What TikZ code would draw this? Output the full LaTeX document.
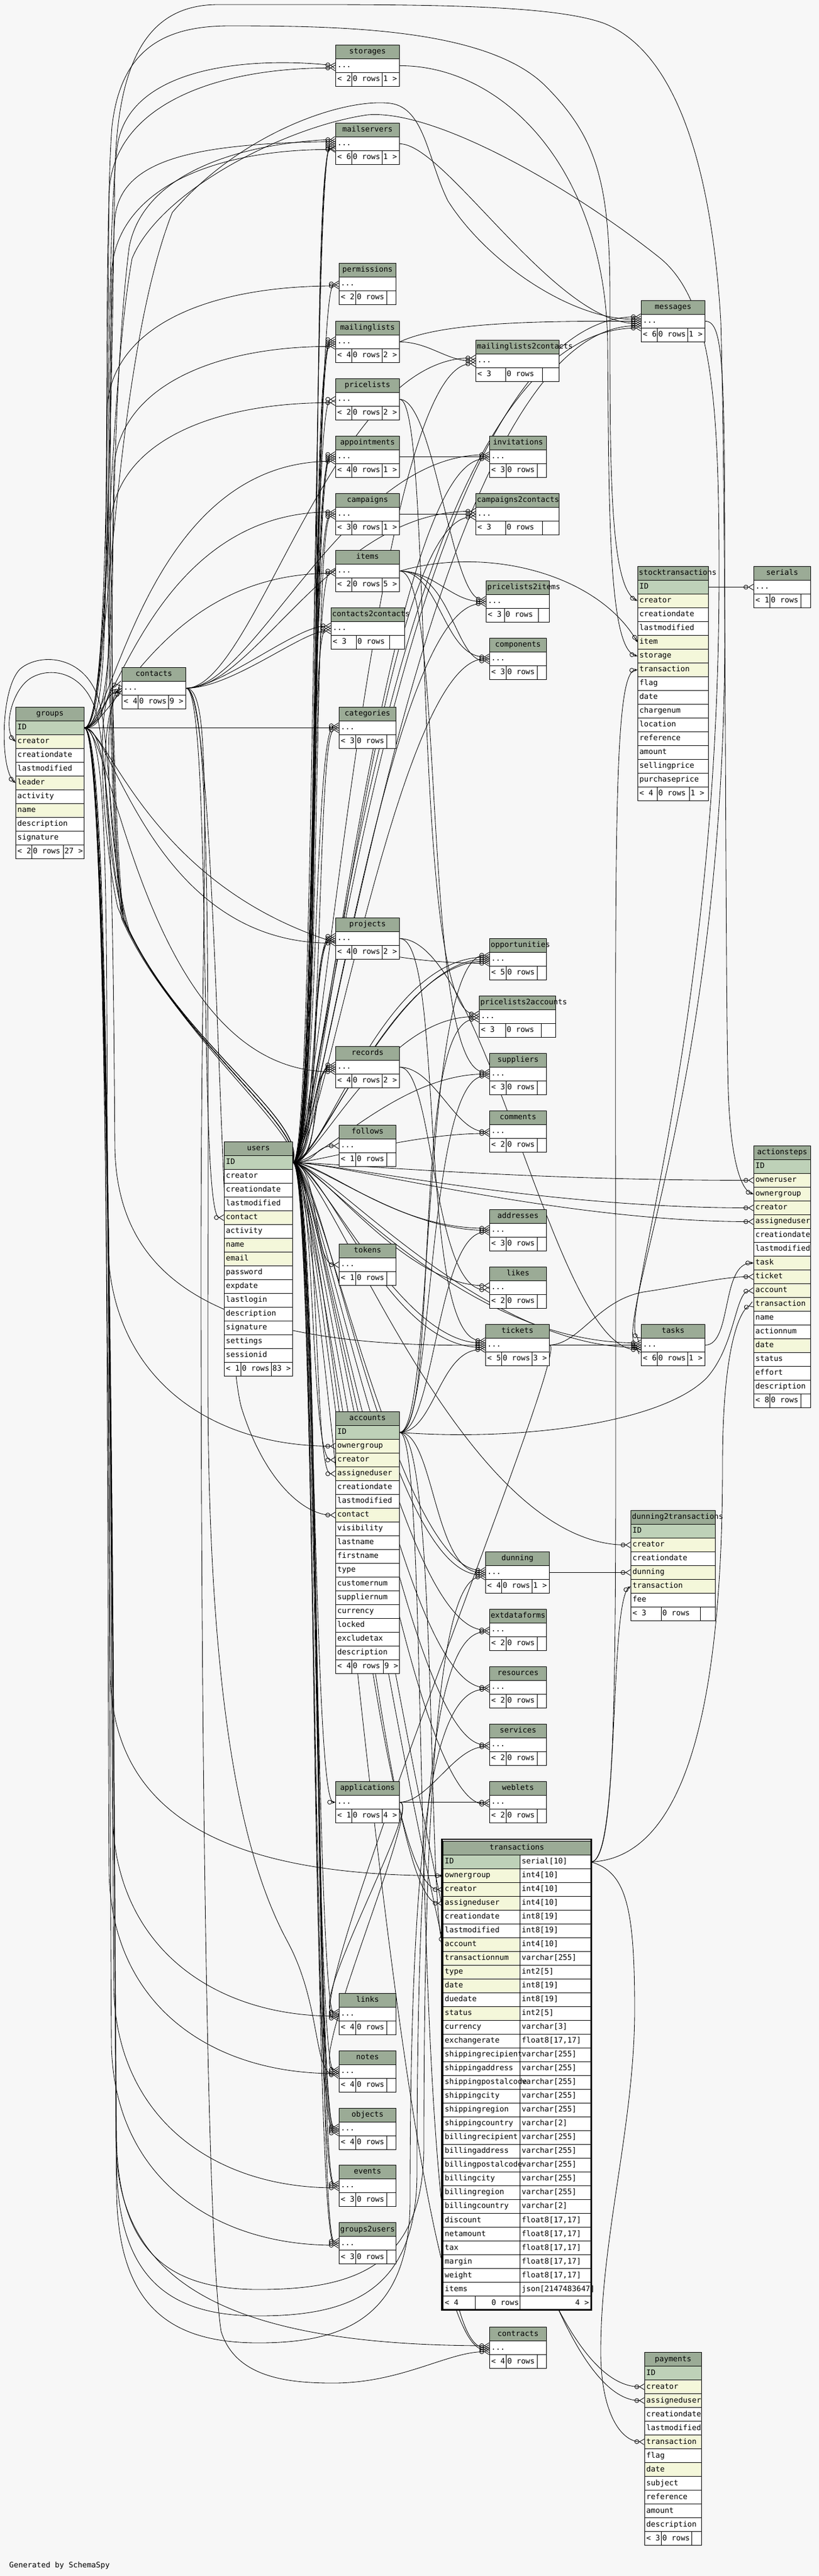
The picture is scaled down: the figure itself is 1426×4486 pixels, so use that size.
\documentclass[tikz,border=0pt]{standalone}
\usepackage{fontspec}
\usetikzlibrary{arrows.meta}
\newfontfamily\dbfamily{DejaVu Sans Mono}
\newcommand{\dbfont}{\dbfamily\fontsize{13.2}{15}\selectfont}
\definecolor{headcol}{HTML}{9BAB96}
\definecolor{pkcol}{HTML}{BED1B8}
\definecolor{fkcol}{HTML}{F4F7DA}
\definecolor{bgcol}{HTML}{F7F7F7}
\pgfdeclarelayer{bg}
\pgfdeclarelayer{edges}
\pgfsetlayers{bg,edges,main}
\tikzstyle{cell}=[draw=black, line width=0.9pt, fill=white, inner sep=0pt, anchor=north west, minimum height=24pt, text height=9.6pt, text depth=2.6pt, font=\dbfont]
\tikzstyle{headcell}=[cell, fill=headcol]
\tikzstyle{many}=[line width=0.85pt, -{Circle[open,length=8pt,width=8pt]Straight Barb[reversed,length=8pt,width=10pt]}]
\tikzstyle{one}=[line width=0.85pt, -{Circle[open,length=8pt,width=8pt]Stealth[length=6pt,width=5pt]}]
\newcommand{\floattype}{float8[17,17]}
\newcommand{\lname}[1]{\rlap{\hspace{2pt}#1}\hfill}
\newcommand{\footrow}[8]
{
  \node[cell] (#1-f1) at (#2,#3) {\makebox[#5pt][l]{\hspace{3pt}< #7}};
  \node[cell] (#1-f2) at (#2+#5,#3) {\makebox[#6pt][l]{\hspace{2pt}0 rows}};
  \node[cell] (#1-f3) at (#2+#5+#6,#3) {\makebox[\dimexpr#4pt-#5pt-#6pt\relax][l]{\hspace{2pt}#8}};
}
\newcommand{\brieftable}[9]
{
  \node[headcell] (#1-h) at (#2,#3) {\makebox[#4pt][c]{#5}};
  \node[cell] (#1-r) at (#2,#3+24) {\makebox[#4pt][l]{\hspace{3pt}...}};
  \footrow{#1}{#2}{#3+48}{#4}{#8}{#9}{#6}{#7}
}
\newcommand{\fulltable}[6]
{
  \node[headcell] (#1-h) at (#2,#3) {\makebox[#4pt][c]{#5}};
  \foreach \col/\shade [count=\i] in {#6}
    \node[cell, fill=\shade] (#1-\col) at (#2,#3+24*\i) {\makebox[#4pt][l]{\hspace{3pt}\col}};
}
\newcommand{\relate}[5][many]{\draw[#1] (#2) .. controls +(#3,0) and +(-#4,0) .. (#5);}
\newcommand{\chutedown}[5][many]{\draw[#1] (#2) .. controls +(45,0) and (#3,#4-900) .. (#3+4,#4-350) .. controls (#3+8,#4-120) and (#3+180,#4) .. (#5);}
\newcommand{\chuteup}[5][many]{\draw[#1] (#2) .. controls +(45,0) and (#3,#4+500) .. (#3+4,#4+220) .. controls (#3+8,#4+70) and (#3+180,#4) .. (#5);}
\newcommand{\swoop}[6][many]
{
  \draw[#1] (#2) .. controls +(50,0) and (198,#3-700) .. (203,#3-260)
    .. controls (207,#3-60) and (300,#3) .. (450,#3)
    .. controls (#4-120,#3) and (#4,#3-40) .. (#4,#3-250)
    .. controls (#4,#6+250) and (#4+40,#6) .. (#5);
}

\begin{document}
\begin{tikzpicture}[x=1pt, y=-1pt]
	\useasboundingbox (0,0) rectangle (1426,4486);
	\begin{pgfonlayer}{bg}
		\fill[bgcol] (0,0) rectangle (1426,4486);
	\end{pgfonlayer}

	% tables shown without columns
	\brieftable{storages}{584}{78}{111}{storages}{2}{1 >}{28}{53}
	\brieftable{mailservers}{584}{214}{111}{mailservers}{6}{1 >}{28}{53}
	\brieftable{permissions}{590}{458}{99}{permissions}{2}{}{29}{54}
	\brieftable{mailinglists}{584}{559}{111}{mailinglists}{4}{2 >}{28}{53}
	\brieftable{pricelists}{584}{659}{111}{pricelists}{2}{2 >}{28}{53}
	\brieftable{mailinglists2contacts}{828}{592}{145}{\lname{mailinglists2contacts}}{3}{}{52}{64}
	\brieftable{messages}{1116}{523}{111}{messages}{6}{1 >}{28}{53}
	\brieftable{appointments}{584}{759}{111}{appointments}{4}{1 >}{28}{53}
	\brieftable{invitations}{852}{759}{99}{invitations}{3}{}{29}{54}
	\brieftable{campaigns}{584}{859}{111}{campaigns}{3}{1 >}{28}{53}
	\brieftable{campaigns2contacts}{828}{859}{145}{\lname{campaigns2contacts}}{3}{}{52}{64}
	\brieftable{items}{584}{958}{111}{items}{2}{5 >}{28}{53}
	\brieftable{pricelists2items}{846}{1011}{110}{\lname{pricelists2items}}{3}{}{32}{59}
	\brieftable{contacts2contacts}{576}{1058}{128}{\lname{contacts2contacts}}{3}{}{44}{58}
	\brieftable{components}{852}{1111}{99}{components}{3}{}{29}{54}
	\brieftable{contacts}{212}{1162}{111}{contacts}{4}{9 >}{28}{53}
	\brieftable{categories}{590}{1231}{99}{categories}{3}{}{29}{54}
	\brieftable{serials}{1312}{986}{99}{serials}{1}{}{28}{54}
	\brieftable{projects}{584}{1598}{111}{projects}{4}{2 >}{28}{53}
	\brieftable{opportunities}{852}{1634}{99}{\lname{opportunities}}{5}{}{29}{54}
	\brieftable{pricelists2accounts}{834}{1734}{133}{\lname{pricelists2accounts}}{3}{}{46}{62}
	\brieftable{records}{584}{1822}{111}{records}{4}{2 >}{28}{53}
	\brieftable{suppliers}{852}{1834}{99}{suppliers}{3}{}{29}{54}
	\brieftable{comments}{852}{1934}{99}{comments}{2}{}{29}{54}
	\brieftable{follows}{590}{1959}{99}{follows}{1}{}{29}{54}
	\brieftable{addresses}{852}{2106}{99}{addresses}{3}{}{29}{54}
	\brieftable{tokens}{590}{2166}{99}{tokens}{1}{}{29}{54}
	\brieftable{likes}{852}{2206}{99}{likes}{2}{}{29}{54}
	\brieftable{tickets}{845}{2306}{111}{tickets}{5}{3 >}{28}{53}
	\brieftable{tasks}{1116}{2306}{111}{tasks}{6}{1 >}{28}{53}
	\brieftable{dunning}{845}{2702}{111}{dunning}{4}{1 >}{28}{53}
	\brieftable{extdataforms}{852}{2802}{99}{extdataforms}{2}{}{29}{54}
	\brieftable{resources}{852}{2902}{99}{resources}{2}{}{29}{54}
	\brieftable{services}{852}{3002}{99}{services}{2}{}{29}{54}
	\brieftable{applications}{584}{3102}{111}{applications}{1}{4 >}{28}{53}
	\brieftable{weblets}{852}{3102}{99}{weblets}{2}{}{29}{54}
	\brieftable{links}{590}{3471}{99}{links}{4}{}{29}{54}
	\brieftable{notes}{590}{3571}{99}{notes}{4}{}{29}{54}
	\brieftable{objects}{590}{3671}{99}{objects}{4}{}{29}{54}
	\brieftable{events}{590}{3770}{99}{events}{3}{}{29}{54}
	\brieftable{groups2users}{590}{3870}{99}{groups2users}{3}{}{29}{54}
	\brieftable{contracts}{852}{4052}{99}{contracts}{4}{}{29}{54}

	% tables with their columns
	\fulltable{groups}{27}{1231}{119}{groups}{ID/pkcol,creator/fkcol,creationdate/white,lastmodified/white,leader/fkcol,activity/white,name/fkcol,description/white,signature/white}
	\footrow{groups}{27}{1471}{119}{28}{55}{2}{27 >}
	\fulltable{users}{390}{1988}{119}{users}{ID/pkcol,creator/white,creationdate/white,lastmodified/white,contact/fkcol,activity/white,name/fkcol,email/fkcol,password/white,expdate/white,lastlogin/white,description/white,signature/white,settings/white,sessionid/white}
	\footrow{users}{390}{2372}{119}{29}{53}{1}{83 >}
	\fulltable{accounts}{584}{2458}{111}{accounts}{ID/pkcol,ownergroup/fkcol,creator/fkcol,assigneduser/fkcol,creationdate/white,lastmodified/white,contact/fkcol,visibility/white,lastname/white,firstname/white,type/white,customernum/white,suppliernum/white,currency/white,locked/white,excludetax/white,description/white}
	\footrow{accounts}{584}{2890}{111}{28}{55}{4}{9 >}
	\fulltable{stocktransactions}{1110}{986}{123}{\lname{stocktransactions}}{ID/pkcol,creator/fkcol,creationdate/white,lastmodified/white,item/fkcol,storage/fkcol,transaction/fkcol,flag/white,date/white,chargenum/white,location/white,reference/white,amount/white,sellingprice/white,purchaseprice/white}
	\footrow{stocktransactions}{1110}{1370}{123}{34}{56}{4}{1 >}
	\fulltable{actionsteps}{1312}{1995}{99}{actionsteps}{ID/pkcol,owneruser/fkcol,ownergroup/fkcol,creator/fkcol,assigneduser/fkcol,creationdate/white,lastmodified/white,task/fkcol,ticket/fkcol,account/fkcol,transaction/fkcol,name/white,actionnum/white,date/fkcol,status/white,effort/white,description/white}
	\footrow{actionsteps}{1312}{2427}{99}{28}{54}{8}{}
	\fulltable{dunning2transactions}{1098}{2630}{147}{\lname{dunning2transactions}}{ID/pkcol,creator/fkcol,creationdate/white,dunning/fkcol,transaction/fkcol,fee/white}
	\footrow{dunning2transactions}{1098}{2798}{147}{53}{68}{3}{}
	\fulltable{payments}{1122}{4096}{99}{payments}{ID/pkcol,creator/fkcol,assigneduser/fkcol,creationdate/white,lastmodified/white,transaction/fkcol,flag/white,date/fkcol,subject/white,reference/white,amount/white,description/white}
	\footrow{payments}{1122}{4408}{99}{29}{53}{3}{}

	% transactions, with column types
	\node[headcell] (transactions-h) at (771,3206) {\makebox[257pt][c]{transactions}};
	\foreach \col/\type/\shade [count=\i] in {ID/serial[10]/pkcol, ownergroup/int4[10]/fkcol, creator/int4[10]/fkcol, assigneduser/int4[10]/fkcol, creationdate/int8[19]/white, lastmodified/int8[19]/white, account/int4[10]/fkcol, transactionnum/varchar[255]/fkcol, type/int2[5]/fkcol, date/int8[19]/fkcol, duedate/int8[19]/white, status/int2[5]/fkcol, currency/varchar[3]/white, exchangerate/\floattype/white, shippingrecipient/varchar[255]/white, shippingaddress/varchar[255]/white, shippingpostalcode/varchar[255]/white, shippingcity/varchar[255]/white, shippingregion/varchar[255]/white, shippingcountry/varchar[2]/white, billingrecipient/varchar[255]/white, billingaddress/varchar[255]/white, billingpostalcode/varchar[255]/white, billingcity/varchar[255]/white, billingregion/varchar[255]/white, billingcountry/varchar[2]/white, discount/\floattype/white, netamount/\floattype/white, tax/\floattype/white, margin/\floattype/white, weight/\floattype/white, items/json[2147483647]/white}
	{
		\node[cell] (transactions-\col-t) at (905,3206+24*\i) {\makebox[123pt][l]{\hspace{3pt}\type}};
		\node[cell, fill=\shade] (transactions-\col) at (771,3206+24*\i) {\makebox[134pt][l]{\hspace{3pt}\col}};
	}
	\node[cell] (transactions-f1) at (771,3998) {\makebox[56pt][l]{\hspace{3pt}< 4}};
	\node[cell] (transactions-f2) at (827,3998) {\makebox[78pt][r]{0 rows\hspace{2pt}}};
	\node[cell] (transactions-f3) at (905,3998) {\makebox[123pt][r]{4 >\hspace{3pt}}};
	\draw[line width=2.6pt] (769.3,3202.8) rectangle (1029.7,4022.2);

	\node[font=\dbfont, anchor=west, inner sep=0pt] (credit) at (16,4468) {Generated by SchemaSpy};

	\begin{pgfonlayer}{edges}
	% from users
	\foreach \c/\a/\b in {mailservers-r.west/40/40, mailservers-r.184/50/45, mailservers-r.188/60/50, permissions-r.west/45/45, mailinglists-r.west/40/40, mailinglists-r.176/50/45, mailinglists-r.184/55/50, pricelists-r.west/45/45, appointments-r.west/40/40, appointments-r.176/50/45, appointments-r.184/55/50, campaigns-r.west/40/45, campaigns-r.184/50/40, items-r.west/45/45, contacts2contacts-r.west/40/40, categories-r.176/45/45, categories-r.184/55/40, projects-r.west/40/40, projects-r.176/50/45, projects-r.184/55/50, records-r.west/40/45, records-r.176/50/40, records-r.184/55/50, follows-r.west/45/45, tokens-r.west/45/45, accounts-creator.west/40/45, accounts-assigneduser.west/50/40, links-r.west/40/40, notes-r.west/45/45, objects-r.west/40/40, objects-r.176/50/45, objects-r.184/55/50, objects-r.188/45/55, events-r.west/40/45, events-r.176/50/40, groups2users-r.west/40/45, groups2users-r.176/50/40}
		{\relate{users-ID.east}{\a}{\b}{\c}}
	\foreach \c/\a/\b in {mailinglists2contacts-r.184/45/180, invitations-r.184/45/180, campaigns2contacts-r.184/50/170, pricelists2items-r.184/45/170, components-r.west/50/160, opportunities-r.west/45/160, opportunities-r.176/55/190, opportunities-r.184/50/170, pricelists2accounts-r.west/45/170, suppliers-r.west/50/160, comments-r.184/45/140, addresses-r.west/45/150, addresses-r.176/55/170, likes-r.176/45/150, tickets-r.176/45/150, tickets-r.184/55/170, dunning-r.176/45/150, dunning-r.184/55/170, extdataforms-r.west/45/160, resources-r.west/45/160, services-r.west/45/150, weblets-r.184/50/150, transactions-creator.west/45/120, transactions-assigneduser.west/55/110, contracts-r.184/50/160}
		{\relate{users-ID.east}{\a}{\b}{\c}}
	\foreach \c/\a/\b in {messages-r.172/45/420, messages-r.188/55/380, messages-r.192/50/450, actionsteps-owneruser.west/60/420, actionsteps-creator.west/70/380, actionsteps-assigneduser.west/80/340, tasks-r.176/45/320, tasks-r.184/55/280, dunning2transactions-creator.west/60/300, payments-creator.west/50/330, payments-assigneduser.west/60/300}
		{\relate{users-ID.east}{\a}{\b}{\c}}
	\relate[one]{users-ID.east}{40}{40}{applications-r.west}
	\draw[many] (users-ID.east) .. controls (530,1960) and (300,1800) .. (215,1600) .. controls (185,1450) and (180,400) .. (205,250) .. controls (230,110) and (450,100) .. (storages-r.west);
	\draw[many] (users-ID.east) .. controls (530,1960) and (300,1800) .. (215,1600) .. controls (185,1400) and (190,700) .. (225,430) .. controls (250,300) and (420,250) .. (mailservers-r.172);
	\draw[many] (users-ID.east) .. controls (530,1960) and (300,1800) .. (215,1600) .. controls (185,1300) and (190,500) .. (200,380) .. controls (210,280) and (330,250) .. (mailservers-r.176);
	\draw[many] (users-ID.east) .. controls (530,1960) and (300,1800) .. (215,1600) .. controls (185,1480) and (165,1260) .. (contacts-r.west);
	\draw[many] (users-ID.east) .. controls (535,1950) and (320,1820) .. (225,1620) .. controls (190,1500) and (175,1230) .. (contacts-r.176);
	\draw[many] (users-ID.east) .. controls (525,1970) and (290,1790) .. (205,1580) .. controls (180,1470) and (160,1200) .. (contacts-r.172);
	\draw[one] (users-ID.east) .. controls (530,1960) and (300,1800) .. (215,1600) .. controls (190,1500) and (185,1320) .. (170,1250) .. controls (152,1170) and (90,1160) .. (55,1180) .. controls (20,1200) and (5,1270) .. (groups-creator.west);
	\draw[one] (users-ID.east) .. controls (535,1950) and (310,1810) .. (220,1610) .. controls (195,1510) and (190,1300) .. (175,1230) .. controls (155,1140) and (70,1135) .. (35,1165) .. controls (0,1200) and (0,1340) .. (groups-leader.west);
	\draw[one] (users-ID.east) .. controls (530,1960) and (300,1800) .. (212,1600) .. controls (182,1400) and (180,400) .. (195,220) .. controls (210,90) and (280,45) .. (400,45) .. controls (600,45) and (850,50) .. (950,150) .. controls (1040,240) and (1062,320) .. (1062,520) .. controls (1062,800) and (1060,1020) .. (stocktransactions-creator.west);

	% from groups
	\chuteup{groups-ID.east}{186}{118}{storages-r.184}
	\chuteup{groups-ID.east}{190}{260}{mailservers-r.190}
	\chuteup{groups-ID.east}{182}{498}{permissions-r.184}
	\chuteup{groups-ID.east}{194}{603}{mailinglists-r.188}
	\chuteup{groups-ID.east}{188}{701}{pricelists-r.186}
	\foreach \c/\a/\b in {appointments-r.188/50/330, campaigns-r.176/50/320, items-r.184/50/300, projects-r.188/50/320, records-r.188/50/330, opportunities-r.188/50/560}
		{\relate{groups-ID.east}{\a}{\b}{\c}}
	\chutedown{groups-ID.east}{184}{2518}{accounts-ownergroup.west}
	\chutedown{groups-ID.east}{196}{2348}{tickets-r.west}
	\chutedown[one]{groups-ID.east}{188}{3266}{transactions-ownergroup.west}
	\chutedown{groups-ID.east}{192}{3511}{links-r.184}
	\chutedown{groups-ID.east}{186}{3611}{notes-r.184}
	\chutedown{groups-ID.east}{194}{3810}{events-r.184}
	\chutedown{groups-ID.east}{190}{3910}{groups2users-r.184}
	\chutedown{groups-ID.east}{198}{4084}{contracts-r.176}
	\relate{groups-ID.east}{30}{30}{contacts-r.186}
	\draw[many] (groups-ID.east) -- (categories-r.west);
	\draw[many] (groups-ID.east) .. controls (190,1267) and (190,650) .. (300,370) .. controls (420,230) and (600,170) .. (680,180) .. controls (740,188) and (745,280) .. (780,350) .. controls (850,460) and (1000,559) .. (messages-r.176);
	\draw[one] (groups-ID.east) .. controls (190,1267) and (195,600) .. (200,300) .. controls (205,100) and (260,8) .. (380,8) .. controls (700,8) and (950,5) .. (1050,40) .. controls (1180,90) and (1240,300) .. (1255,560) .. controls (1265,900) and (1262,1700) .. (1268,1900) .. controls (1272,2020) and (1290,2072) .. (actionsteps-ownergroup.west);
	\draw[many] (groups-ID.east) .. controls (190,1267) and (185,700) .. (230,450) .. controls (280,330) and (500,220) .. (640,200) .. controls (760,190) and (1000,330) .. (1150,450) .. controls (1240,525) and (1252,700) .. (1252,1000) .. controls (1252,1800) and (1075,2300) .. (tasks-r.172);
	\swoop{groups-ID.east}{3987}{738}{dunning-r.188}{2746}
	\swoop{groups-ID.east}{4033}{726}{extdataforms-r.184}{2842}
	\swoop{groups-ID.east}{4080}{714}{resources-r.184}{2942}

	% from contacts
	\draw[many] (contacts-r.east) .. controls (370,1198) and (345,2120) .. (users-contact.west);
	\draw[many] (contacts-r.east) .. controls (380,1198) and (380,2300) .. (420,2450) .. controls (460,2580) and (530,2638) .. (accounts-contact.west);
	\relate{contacts-r.east}{60}{60}{contacts2contacts-r.176}
	\relate{contacts-r.east}{80}{50}{contacts2contacts-r.184}
	\relate{contacts-r.east}{120}{250}{mailinglists2contacts-r.176}
	\relate{contacts-r.east}{120}{250}{campaigns2contacts-r.176}
	\relate{contacts-r.east}{120}{250}{invitations-r.176}
	\draw[many] (contacts-r.east) .. controls (375,1198) and (350,1500) .. (350,2200) .. controls (350,3000) and (360,3900) .. (385,4060) .. controls (410,4140) and (500,4150) .. (580,4150) .. controls (700,4150) and (780,4095) .. (contracts-r.188);
	\draw[many] (contacts-r.east) .. controls (368,1198) and (362,1700) .. (362,2400) .. controls (362,3000) and (430,3250) .. (500,3380) .. controls (560,3490) and (545,3610) .. (notes-r.188);

	% from accounts
	\relate{accounts-ID.east}{60}{120}{opportunities-r.172}
	\relate{accounts-ID.east}{70}{120}{pricelists2accounts-r.184}
	\relate{accounts-ID.east}{60}{110}{suppliers-r.184}
	\relate{accounts-ID.east}{60}{90}{addresses-r.184}
	\relate{accounts-ID.east}{60}{80}{tickets-r.188}
	\relate{accounts-ID.east}{60}{90}{dunning-r.west}
	\relate{accounts-ID.east}{60}{150}{contracts-r.west}
	\draw[many] (accounts-ID.east) .. controls (900,2510) and (1150,2480) .. (1230,2400) .. controls (1280,2345) and (1280,2250) .. (actionsteps-account.west);
	\draw[one] (accounts-ID.east) .. controls (760,2494) and (745,3300) .. (transactions-account.west);

	% from items
	\relate{items-r.east}{60}{60}{pricelists2items-r.west}
	\relate{items-r.east}{70}{80}{components-r.176}
	\relate{items-r.east}{90}{60}{components-r.184}
	\relate{items-r.east}{80}{120}{suppliers-r.176}
	\draw[one] (items-r.east) .. controls (850,950) and (1040,1000) .. (stocktransactions-item.west);

	% from transactions
	\draw[one] (transactions-ID-t.east) .. controls (1075,3242) and (1072,2900) .. (1072,2300) .. controls (1072,1500) and (1066,1170) .. (stocktransactions-transaction.west);
	\draw[one] (transactions-ID-t.east) .. controls (1080,3242) and (1060,2790) .. (dunning2transactions-transaction.west);
	\draw[many] (transactions-ID-t.east) .. controls (1200,3235) and (1258,2950) .. (1258,2550) .. controls (1258,2340) and (1290,2280) .. (actionsteps-transaction.west);
	\draw[many] (transactions-ID-t.east) .. controls (1090,3260) and (1105,3320) .. (1105,3500) .. controls (1105,3700) and (1045,3900) .. (1046,4100) .. controls (1047,4200) and (1080,4251) .. (payments-transaction.west);

	% the rest
	\draw[one] (storages-r.east) .. controls (880,114) and (1055,300) .. (1058,600) .. controls (1060,900) and (1060,1130) .. (stocktransactions-storage.west);
	\draw[many] (stocktransactions-ID.east) -- (serials-r.west);
	\relate{mailservers-r.east}{80}{150}{messages-r.184}
	\draw[many] (mailinglists-r.east) .. controls (770,560) and (950,559) .. (messages-r.west);
	\relate{mailinglists-r.east}{50}{50}{mailinglists2contacts-r.west}
	\relate{pricelists-r.east}{60}{60}{pricelists2items-r.176}
	\relate{pricelists-r.east}{60}{120}{pricelists2accounts-r.176}
	\draw[many] (appointments-r.east) -- (invitations-r.west);
	\draw[many] (campaigns-r.east) -- (campaigns2contacts-r.west);
	\relate{projects-r.east}{80}{120}{tickets-r.172}
	\relate{projects-r.east}{150}{150}{tasks-r.188}
	\relate{records-r.east}{60}{60}{comments-r.west}
	\relate{records-r.east}{60}{100}{likes-r.184}
	\draw[many] (tickets-r.east) -- (tasks-r.west);
	\draw[many] (tickets-r.east) .. controls (1010,2340) and (1040,2265) .. (1120,2250) .. controls (1200,2238) and (1260,2223) .. (actionsteps-ticket.west);
	\relate{tickets-r.east}{40}{80}{links-r.188}
	\draw[one] (tasks-r.east) .. controls (1275,2342) and (1255,2199) .. (actionsteps-task.west);
	\draw[many] (messages-r.east) .. controls (1262,559) and (1262,650) .. (1262,1100) .. controls (1262,1900) and (1060,2310) .. (tasks-r.192);
	\relate{applications-r.east}{50}{60}{services-r.184}
	\draw[many] (applications-r.east) -- (weblets-r.west);
	\relate{applications-r.east}{40}{60}{links-r.176}
	\relate{applications-r.east}{40}{60}{notes-r.176}
	\draw[many] (dunning-r.east) -- (dunning2transactions-dunning.west);
	\end{pgfonlayer}
\end{tikzpicture}
\end{document}
